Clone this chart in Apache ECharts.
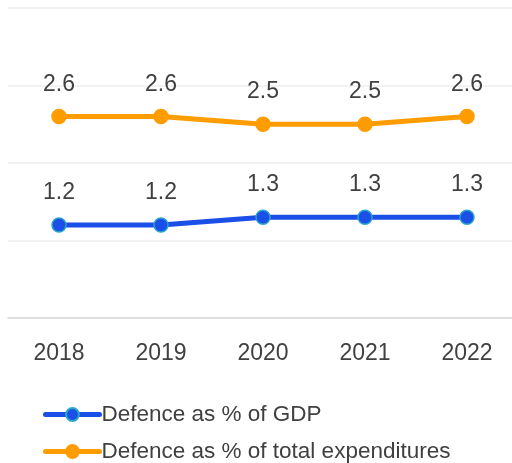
<!DOCTYPE html>
<html>
<head>
<meta charset="utf-8">
<script src="https://cdn.jsdelivr.net/npm/echarts@6/dist/echarts.min.js"></script>
<style>
  html, body { margin: 0; padding: 0; background: #fff; overflow: hidden; }
  /* the plot runs slightly past the right edge of the window */
  #chart { width: 518px; height: 463px; }
</style>
</head>
<body>
<div id="chart"></div>
<script>
const years = ['2018', '2019', '2020', '2021', '2022'];
const defenceGdp = [1.2, 1.2, 1.3, 1.3, 1.3];
const defenceTotal = [2.6, 2.6, 2.5, 2.5, 2.6];

const seriesNames = ['Defence as % of GDP', 'Defence as % of total expenditures'];

const font = 'Liberation Sans, Arial, sans-serif';
const textColor = '#404040';

const chart = echarts.init(document.getElementById('chart'));

function lineSeries(name, data, color, border) {
  return {
    name: name,
    type: 'line',
    data: data,
    symbol: 'circle',
    symbolSize: 14,
    lineStyle: { color: color, width: 5 },
    itemStyle: { color: color, borderColor: border, borderWidth: 1.5 },
    label: {
      show: true,
      position: 'top',
      distance: 13,
      fontFamily: font,
      fontSize: 23,
      color: textColor,
      formatter: p => p.value.toFixed(1)
    },
    animation: false
  };
}

function legendRow(name, top) {
  return {
    left: 43,
    top: top,
    padding: 0,
    itemWidth: 54,
    itemHeight: 16,
    lineStyle: { width: 5, cap: 'round' },
    textStyle: { fontFamily: font, fontSize: 22.5, color: textColor, padding: [0, 0, 0, -3] },
    data: [name]
  };
}

chart.setOption({
  backgroundColor: '#ffffff',
  grid: { left: 8, top: 8, width: 510, height: 310, containLabel: false },
  xAxis: {
    type: 'category',
    data: years,
    boundaryGap: true,
    axisLine: { lineStyle: { color: '#d9d9d9', width: 1.5 } },
    axisTick: { show: false },
    axisLabel: { fontFamily: font, fontSize: 23, color: textColor, margin: 24 }
  },
  yAxis: {
    type: 'value',
    min: 0,
    max: 4,
    interval: 1,
    axisLine: { show: false },
    axisTick: { show: false },
    axisLabel: { show: false },
    splitLine: { lineStyle: { color: '#eeeeee', width: 1.5 } }
  },
  legend: [
    legendRow(seriesNames[0], 403),
    legendRow(seriesNames[1], 440)
  ],
  series: [
    lineSeries(seriesNames[0], defenceGdp, '#1a4fe8', '#2aa6c9'),
    lineSeries(seriesNames[1], defenceTotal, '#ff9c00', '#ff9c00')
  ]
});
</script>
</body>
</html>
